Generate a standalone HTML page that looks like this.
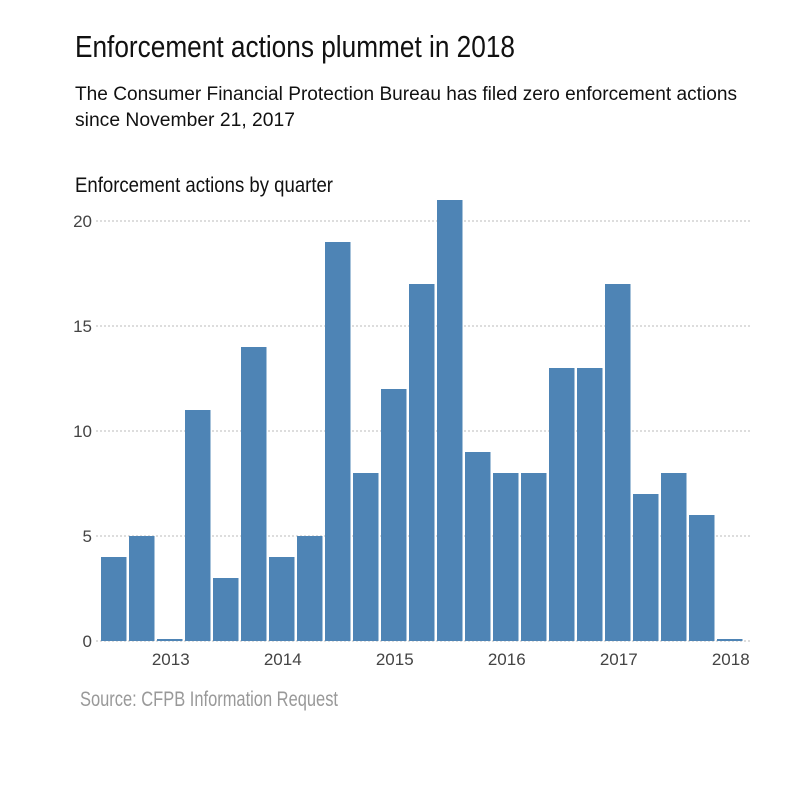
<!DOCTYPE html>
<html><head><meta charset="utf-8"><style>
body{margin:0;background:#fff;}
svg text{font-family:"Liberation Sans Narrow","Liberation Sans",sans-serif;}
</style></head><body>
<svg width="800" height="800" xmlns="http://www.w3.org/2000/svg">
<text x="75" y="57" font-size="31" fill="#111" textLength="440" lengthAdjust="spacingAndGlyphs">Enforcement actions plummet in 2018</text>
<text x="75" y="100" font-size="19" fill="#111" textLength="662" lengthAdjust="spacingAndGlyphs">The Consumer Financial Protection Bureau has filed zero enforcement actions</text>
<text x="75" y="126" font-size="19" fill="#111" textLength="220" lengthAdjust="spacingAndGlyphs">since November 21, 2017</text>
<text x="75" y="192" font-size="21" fill="#111" textLength="258" lengthAdjust="spacingAndGlyphs">Enforcement actions by quarter</text>
<g id="grid"></g><g id="bars"></g><g id="xlabels"></g>
<text x="80" y="706" font-size="21" fill="#999" textLength="258" lengthAdjust="spacingAndGlyphs">Source: CFPB Information Request</text>
</svg>
<script>
const values=[4,5,0,11,3,14,4,5,19,8,12,17,21,9,8,8,13,13,17,7,8,6,0];
const yTicks=[0,5,10,15,20];
const years=["2013","2014","2015","2016","2017","2018"];
const yearBarIndex=[2,6,10,14,18,22];
const NS="http://www.w3.org/2000/svg";
const x0=101,step=28,bw=25.5,y0=641,ppu=21;
const X=i=>x0+i*step, Y=v=>y0-v*ppu;
function mk(t,a,p){const e=document.createElementNS(NS,t);for(const k in a)e.setAttribute(k,a[k]);p.appendChild(e);return e;}
const g=document.getElementById('grid');
yTicks.forEach(v=>{
 const l=mk('line',{x1:96,x2:750,y1:Y(v),y2:Y(v),stroke:'#bbb','stroke-dasharray':'2,2'},g);
 
 
 const t=mk('text',{x:92,y:Y(v)+6,'font-size':17,fill:'#444','text-anchor':'end'},g);t.textContent=v;
 
 
});
const b=document.getElementById('bars');
values.forEach((v,i)=>{
 const h=Math.max(v*ppu,2);
 const r=mk('rect',{x:X(i),y:y0-h,width:bw,height:h,fill:'#4e84b5'},b);
 
 
});
const xl=document.getElementById('xlabels');
years.forEach((y,k)=>{
 const t=mk('text',{x:X(yearBarIndex[k])+bw/2+1,y:665,'font-size':17,fill:'#444','text-anchor':'middle'},xl);t.textContent=y;
 
 
});
</script>
</body></html>
